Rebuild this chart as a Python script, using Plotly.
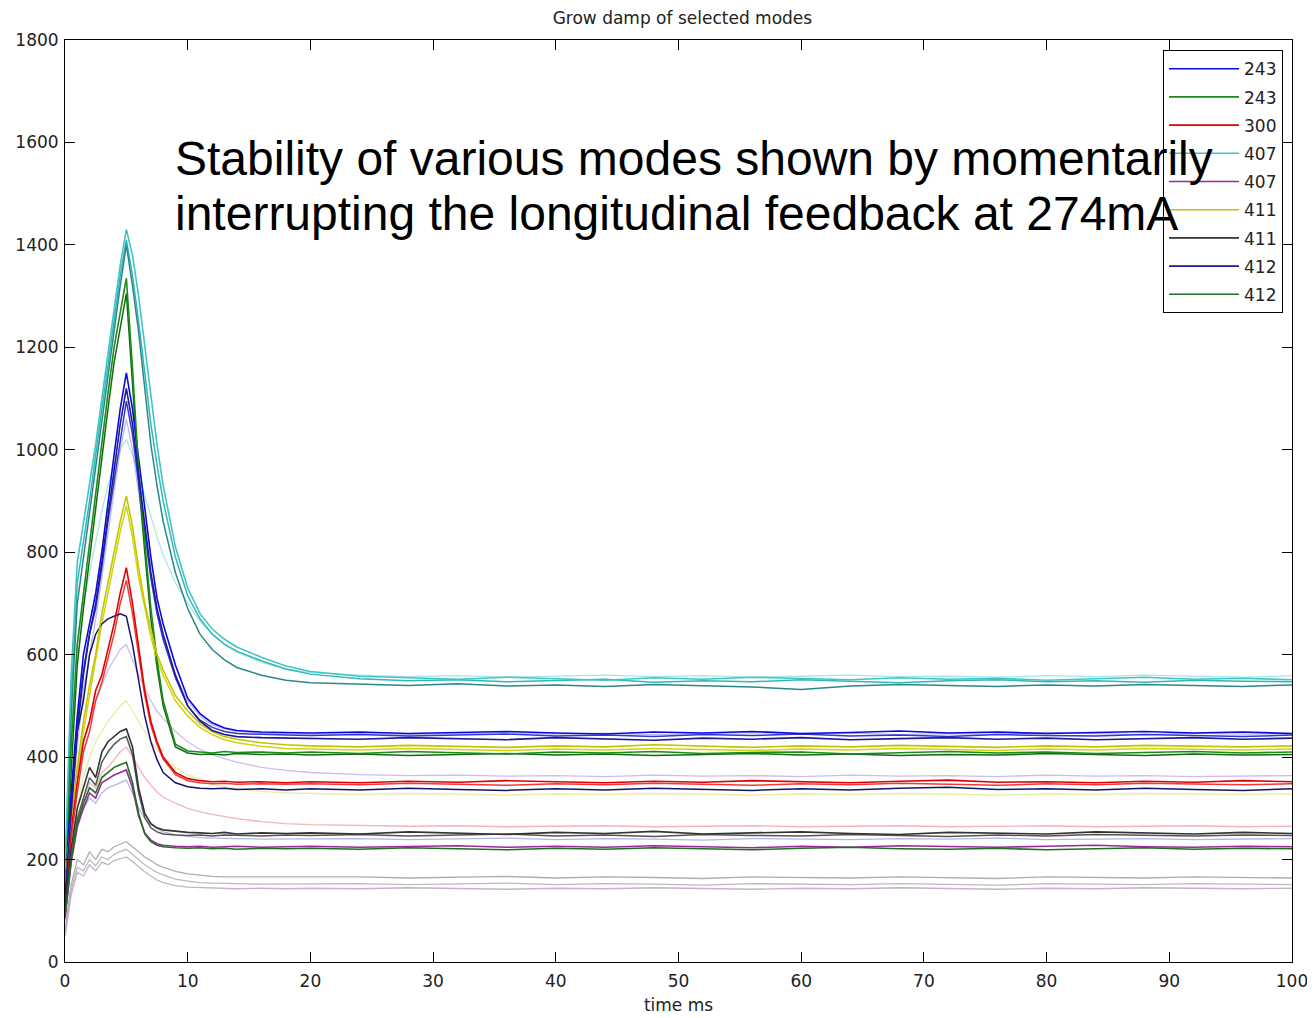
import plotly.graph_objects as go

# ---------------- data ----------------
t_early = [0, 0.5, 1, 1.5, 2, 2.5, 3, 3.5, 4, 4.5, 5, 5.5, 6, 6.5, 7, 7.5, 8, 9, 10, 11, 12, 13, 14, 16, 18]
t_late = [20, 24, 28, 32, 36, 40, 44, 48, 52, 56, 60, 64, 68, 72, 76, 80, 84, 88, 92, 96, 100]
time_ms = t_early + t_late

cyan_a = [180, 560, 780, 860, 930, 1010, 1100, 1190, 1280, 1360, 1430, 1380, 1300, 1200, 1100, 1010, 930, 810, 730, 680, 650, 630, 615, 595, 578,
          567, 558, 555, 552, 556, 553, 550, 555, 552, 556, 553, 551, 555, 552, 554, 550, 553, 556, 552, 554, 551]
cyan_b = [150, 520, 740, 820, 900, 990, 1080, 1170, 1260, 1340, 1410, 1340, 1250, 1150, 1050, 970, 900, 790, 715, 670, 640, 620, 607, 588, 572,
          562, 553, 549, 551, 547, 549, 552, 546, 549, 547, 551, 548, 545, 549, 551, 547, 549, 546, 550, 548, 547]
teal_c = [130, 480, 700, 790, 880, 970, 1060, 1150, 1240, 1320, 1400, 1320, 1230, 1120, 1010, 930, 860, 760, 690, 640, 610, 590, 575, 560, 550,
          545, 542, 540, 543, 539, 541, 538, 542, 540, 537, 532, 539, 542, 540, 538, 541, 539, 542, 540, 538, 541]
cyan_light = [140, 450, 620, 700, 760, 820, 880, 930, 970, 1000, 1020, 990, 950, 910, 870, 830, 795, 740, 700, 665, 640, 620, 605, 585, 572,
              565, 560, 557, 559, 556, 558, 560, 557, 559, 556, 558, 560, 557, 558, 556, 559, 557, 560, 558, 556, 559]
green_a = [180, 420, 620, 720, 820, 920, 1020, 1110, 1200, 1270, 1335, 1160, 960, 820, 690, 590, 510, 425, 412, 410, 408, 411, 409, 410, 408,
           410, 407, 411, 409, 406, 410, 408, 411, 407, 409, 410, 406, 409, 411, 408, 410, 407, 409, 411, 408, 410]
green_b = [160, 380, 580, 690, 790, 890, 990, 1080, 1170, 1240, 1305, 1130, 940, 800, 670, 575, 500, 420, 408, 405, 406, 404, 407, 405, 406,
           404, 406, 403, 405, 407, 404, 406, 403, 405, 407, 404, 406, 403, 405, 404, 407, 405, 403, 406, 404, 405]
blue_a = [150, 330, 480, 600, 660, 720, 800, 900, 990, 1080, 1150, 1080, 980, 880, 790, 710, 660, 580, 515, 485, 467, 457, 452, 449, 448,
          447, 449, 446, 448, 450, 447, 445, 449, 447, 450, 446, 448, 451, 447, 449, 446, 448, 450, 447, 449, 446]
navy_b = [130, 300, 450, 560, 640, 700, 780, 870, 960, 1050, 1120, 1050, 950, 850, 760, 690, 640, 560, 500, 470, 452, 444, 440, 438, 437,
          437, 435, 438, 436, 434, 438, 436, 433, 437, 435, 438, 434, 436, 438, 435, 437, 434, 436, 438, 435, 437]
blue_c = [140, 310, 460, 570, 640, 690, 770, 860, 940, 1020, 1095, 1030, 930, 840, 750, 680, 630, 555, 500, 472, 458, 450, 446, 444, 443,
          442, 444, 441, 443, 445, 441, 443, 440, 444, 442, 445, 441, 443, 440, 444, 442, 441, 444, 442, 440, 443]
blue_light = [120, 280, 420, 530, 600, 670, 750, 840, 920, 1000, 1060, 1000, 920, 830, 750, 680, 630, 560, 510, 480, 463, 455, 450, 447, 446,
              445, 447, 444, 446, 448, 445, 447, 444, 446, 448, 445, 447, 444, 446, 445, 448, 446, 444, 447, 445, 446]
yellow_a = [150, 280, 380, 470, 540, 600, 680, 740, 800, 860, 910, 850, 770, 700, 650, 600, 570, 520, 490, 465, 450, 440, 435, 428, 424,
            422, 420, 423, 421, 419, 422, 420, 424, 421, 419, 422, 420, 423, 421, 419, 422, 420, 423, 421, 420, 422]
yellow_b = [140, 260, 360, 450, 520, 590, 660, 720, 780, 840, 890, 830, 750, 690, 635, 590, 560, 510, 480, 458, 444, 434, 428, 421, 417,
            416, 414, 417, 415, 413, 416, 414, 417, 415, 413, 416, 414, 417, 415, 413, 416, 414, 417, 415, 414, 416]
red_a = [120, 260, 350, 430, 470, 530, 560, 610, 660, 720, 770, 700, 610, 530, 470, 430, 400, 370, 358, 354, 352, 353, 351, 352, 350,
         352, 350, 353, 351, 354, 352, 350, 353, 351, 354, 352, 350, 353, 355, 351, 352, 350, 353, 351, 354, 352]
red_b = [110, 240, 330, 410, 450, 510, 545, 590, 640, 700, 745, 680, 595, 520, 462, 425, 396, 366, 354, 350, 348, 349, 347, 348, 347,
         348, 346, 349, 347, 345, 348, 346, 349, 347, 345, 348, 346, 349, 347, 345, 348, 346, 349, 347, 346, 348]
navy_d = [100, 300, 450, 510, 600, 640, 660, 670, 675, 680, 675, 620, 550, 480, 430, 395, 370, 350, 342, 339, 338, 339, 337, 338, 336,
          338, 336, 339, 337, 335, 338, 336, 339, 337, 335, 338, 336, 339, 341, 337, 338, 336, 339, 337, 335, 338]
lavender = [110, 250, 360, 430, 470, 510, 540, 570, 590, 610, 620, 590, 560, 535, 510, 490, 475, 450, 430, 415, 405, 397, 390, 380, 374,
            370, 366, 364, 365, 363, 364, 362, 365, 363, 364, 362, 365, 363, 364, 362, 365, 363, 364, 362, 363, 364]
yellow_light = [100, 220, 300, 360, 400, 430, 450, 470, 485, 500, 510, 490, 470, 450, 430, 415, 400, 380, 365, 356, 348, 343, 338, 333, 330,
                329, 327, 329, 328, 326, 328, 327, 329, 328, 326, 328, 327, 329, 328, 326, 328, 327, 329, 328, 327, 328]
pink = [90, 210, 280, 320, 350, 340, 370, 380, 395, 410, 420, 400, 380, 360, 345, 332, 322, 310, 300, 293, 288, 284, 280, 274, 270,
        268, 266, 265, 266, 264, 265, 266, 264, 265, 266, 264, 265, 266, 264, 265, 266, 264, 265, 266, 264, 265]
black_a = [100, 220, 300, 340, 380, 360, 410, 430, 440, 450, 455, 420, 340, 290, 270, 262, 258, 255, 253, 252, 251, 253, 250, 252, 251,
           252, 250, 254, 251, 249, 253, 251, 255, 250, 252, 254, 251, 249, 253, 251, 250, 254, 252, 250, 253, 251]
black_b = [90, 200, 280, 320, 360, 345, 390, 410, 425, 435, 440, 405, 330, 282, 262, 254, 250, 248, 247, 248, 246, 248, 247, 246, 248,
           247, 249, 246, 248, 250, 246, 248, 245, 249, 247, 246, 249, 247, 245, 248, 246, 249, 247, 246, 248, 247]
periwinkle = [80, 190, 260, 300, 320, 310, 330, 340, 345, 350, 355, 330, 300, 280, 268, 260, 254, 248, 245, 243, 242, 241, 241, 240, 240,
              240, 241, 239, 240, 242, 239, 241, 240, 238, 241, 240, 239, 241, 240, 242, 239, 240, 241, 239, 240, 241]
green_low = [90, 200, 270, 310, 340, 330, 360, 370, 380, 385, 390, 350, 290, 250, 235, 228, 225, 223, 222, 223, 221, 222, 220, 222, 221,
             222, 220, 223, 221, 219, 222, 220, 223, 221, 219, 222, 224, 221, 220, 222, 219, 221, 223, 220, 222, 221]
magenta_low = [85, 195, 265, 300, 330, 320, 350, 358, 365, 370, 375, 340, 285, 252, 238, 231, 228, 226, 225, 226, 224, 225, 226, 224, 225,
               226, 224, 225, 227, 224, 226, 224, 227, 225, 223, 226, 224, 227, 225, 224, 226, 228, 225, 224, 226, 225]
gray_a = [60, 150, 200, 190, 215, 200, 220, 215, 225, 230, 235, 225, 215, 205, 198, 190, 185, 177, 172, 169, 167, 166, 166, 165, 165,
          165, 166, 164, 165, 167, 164, 166, 165, 163, 166, 165, 164, 166, 165, 163, 166, 165, 164, 166, 165, 164]
gray_b = [55, 140, 185, 178, 200, 188, 205, 200, 210, 216, 220, 210, 200, 190, 182, 175, 170, 162, 158, 155, 154, 153, 153, 152, 152,
          152, 153, 151, 152, 154, 151, 153, 152, 150, 153, 152, 151, 153, 152, 150, 153, 152, 151, 153, 152, 151]
mauve_gray = [50, 130, 175, 168, 190, 178, 195, 190, 198, 202, 205, 196, 186, 176, 168, 160, 155, 149, 146, 145, 144, 144, 143, 144, 143,
              144, 143, 145, 144, 142, 144, 143, 145, 144, 142, 144, 143, 145, 144, 142, 144, 143, 145, 144, 143, 144]

legend_labels = ["243", "243", "300", "407", "407", "411", "411", "412", "412"]
x_ticks = [0, 10, 20, 30, 40, 50, 60, 70, 80, 90, 100]
y_ticks = [0, 200, 400, 600, 800, 1000, 1200, 1400, 1600, 1800]

# ---------------- figure ----------------
fig = go.Figure()

faint = [
    (cyan_light, "rgba(110,215,215,0.6)"),
    (blue_light, "rgba(140,140,240,0.6)"),
    (lavender, "rgba(185,160,230,0.7)"),
    (yellow_light, "rgba(230,230,140,0.8)"),
    (pink, "rgba(240,150,150,0.7)"),
    (periwinkle, "rgba(150,150,220,0.7)"),
    (gray_a, "rgba(165,165,165,0.9)"),
    (gray_b, "rgba(180,180,180,0.9)"),
    (mauve_gray, "rgba(195,165,200,0.9)"),
]
for vals, col in faint:
    fig.add_trace(go.Scatter(x=time_ms, y=vals, mode="lines", line=dict(color=col, width=1.3),
                             showlegend=False, hoverinfo="skip"))

extra = [
    (cyan_b, "#30b8b8"),
    (teal_c, "#2a8888"),
    (green_b, "#106a10"),
    (blue_c, "#3535d8"),
    (yellow_b, "#d2d210"),
    (red_b, "#f03a3a"),
    (navy_d, "#15156e"),
    (black_b, "#555555"),
]
for vals, col in extra:
    fig.add_trace(go.Scatter(x=time_ms, y=vals, mode="lines", line=dict(color=col, width=1.5),
                             showlegend=False, hoverinfo="skip"))

main = [
    (blue_a, "#0a0ae0", 1),
    (green_a, "#1a8c1a", 2),
    (red_a, "#e00000", 3),
    (cyan_a, "#40c4c4", 4),
    (magenta_low, "#9a2a9a", 5),
    (yellow_a, "#c4c400", 6),
    (black_a, "#333333", 7),
    (navy_b, "#1c1c90", 8),
    (green_low, "#1f6f1f", 9),
]
for (vals, col, rank), lab in zip(main, legend_labels):
    fig.add_trace(go.Scatter(x=time_ms, y=vals, mode="lines", name=lab, line=dict(color=col, width=1.6),
                             legendrank=rank, legendgroup="g%d" % rank))

FONT = "DejaVu Sans"
axis_common = dict(showline=True, linecolor="black", linewidth=1, mirror="ticks", ticks="inside",
                   ticklen=10, tickcolor="black", showgrid=False, zeroline=False, automargin=False,
                   tickfont=dict(family=FONT, size=17, color="#222222"))

fig.update_xaxes(range=[0, 100], tickvals=x_ticks, ticklabelstandoff=4,
                 title=dict(text="time ms", font=dict(family=FONT, size=17, color="#222222"), standoff=8),
                 **axis_common)
fig.update_yaxes(range=[0, 1800], tickvals=y_ticks, ticklabelstandoff=2, **axis_common)

fig.add_annotation(x=8.8, y=1568, xref="x", yref="y", xanchor="left", yanchor="middle",
                   text="Stability of various modes shown by momentarily", showarrow=False,
                   font=dict(family="Liberation Sans", size=48, color="black"))
fig.add_annotation(x=8.8, y=1462, xref="x", yref="y", xanchor="left", yanchor="middle",
                   text="interrupting the longitudinal feedback at 274mA", showarrow=False,
                   font=dict(family="Liberation Sans", size=48, color="black"))

fig.update_layout(
    width=1307, height=1010,
    paper_bgcolor="white", plot_bgcolor="white",
    margin=dict(l=57, r=23, t=32, b=56, autoexpand=False),
    title=dict(text="Grow damp of selected modes", x=0.516, xanchor="center", y=0.99, yanchor="middle",
               font=dict(family=FONT, size=17, color="#222222")),
    legend=dict(x=0.9927, xanchor="right", y=0.989, yanchor="top", bgcolor="white",
                bordercolor="black", borderwidth=1, tracegroupgap=3.1, itemwidth=70,
                font=dict(family=FONT, size=17, color="#222222")),
    showlegend=True,
)

fig.write_html("out.html")
